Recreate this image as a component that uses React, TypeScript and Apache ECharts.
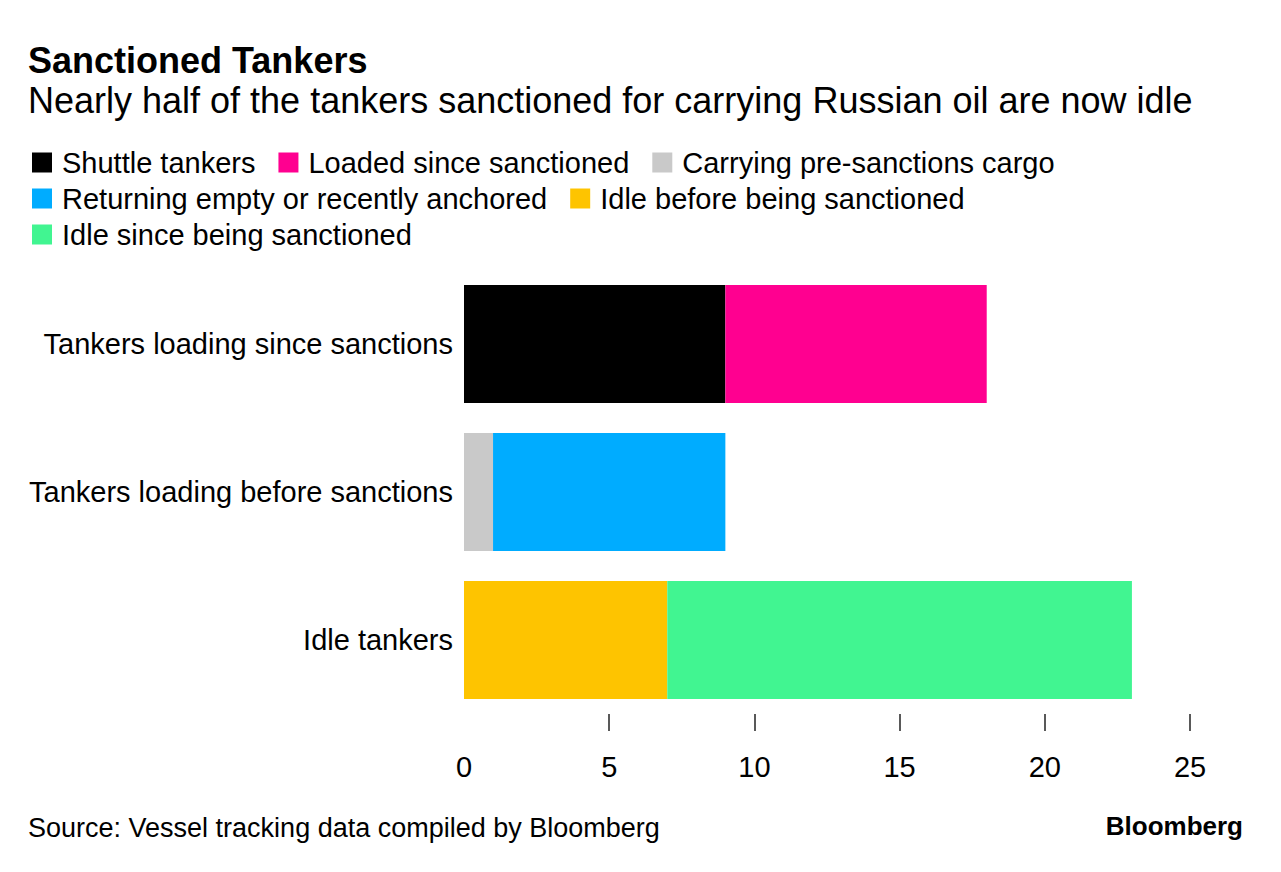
import React, { useEffect, useRef } from "react";
import * as echarts from "echarts";

const categories = [
  "Tankers loading since sanctions",
  "Tankers loading before sanctions",
  "Idle tankers",
];
const seriesNames = [
  "Shuttle tankers",
  "Loaded since sanctioned",
  "Carrying pre-sanctions cargo",
  "Returning empty or recently anchored",
  "Idle before being sanctioned",
  "Idle since being sanctioned",
];
const shuttleTankers = [9, null, null];
const loadedSinceSanctioned = [9, null, null];
const carryingPreSanctions = [null, 1, null];
const returningEmpty = [null, 8, null];
const idleBefore = [null, null, 7];
const idleSince = [null, null, 16];
const seriesValues = [
  shuttleTankers,
  loadedSinceSanctioned,
  carryingPreSanctions,
  returningEmpty,
  idleBefore,
  idleSince,
];
const seriesColors = ["#000000", "#ff0090", "#c9c9c9", "#00acff", "#fec400", "#41f591"];
const xTicks = [5, 10, 15, 20, 25];
const xLabels = [0, 5, 10, 15, 20, 25];
const legendRows = [
  [seriesNames[0], seriesNames[1], seriesNames[2]],
  [seriesNames[3], seriesNames[4]],
  [seriesNames[5]],
];

const FONT = "'Liberation Sans', Arial, sans-serif";

export default function App() {
  const ref = useRef<HTMLDivElement>(null);
  useEffect(() => {
    if (!ref.current) return;
    const chart = echarts.init(ref.current, undefined, { renderer: "svg" });
    const rowCenters = [162.5, 198.5, 234.5];
    chart.setOption({
      animation: false,
      backgroundColor: "#ffffff",
      textStyle: { fontFamily: FONT },
      legend: legendRows.map((row, i) => ({
        data: row,
        left: 32,
        top: rowCenters[i] - 16,
        padding: 0,
        orient: "horizontal",
        icon: "rect",
        itemWidth: 20,
        itemHeight: 20,
        itemGap: 23,
        selectedMode: false,
        textStyle: {
          fontFamily: FONT,
          fontSize: 29,
          color: "#000",
          lineHeight: 32,
          padding: [0, 0, 0, 5],
        },
      })),
      grid: {
        left: 464,
        right: 91,
        top: 270,
        bottom: 158,
        containLabel: false,
        outerBoundsMode: "none",
      },
      xAxis: {
        type: "value",
        min: 0,
        max: 25,
        interval: 5,
        splitLine: { show: false },
        axisLine: { show: false },
        axisTick: {
          show: true,
          length: 17,
          customValues: xTicks,
          lineStyle: { color: "#222", width: 1.5 },
        },
        axisLabel: {
          customValues: xLabels,
          margin: 38,
          fontSize: 29,
          color: "#000",
          fontFamily: FONT,
        },
      },
      yAxis: {
        type: "category",
        data: categories,
        inverse: true,
        axisLine: { show: false },
        axisTick: { show: false },
        axisLabel: { margin: 11, fontSize: 29, color: "#000", fontFamily: FONT },
      },
      series: seriesNames.map((name, i) => ({
        name,
        type: "bar",
        stack: "total",
        barWidth: 118,
        data: seriesValues[i],
        itemStyle: { color: seriesColors[i] },
        emphasis: { disabled: true },
      })),
      graphic: [
        {
          type: "text",
          left: 28,
          top: 42,
          style: {
            text: "Sanctioned Tankers",
            font: `bold 36px ${FONT}`,
            fill: "#000",
          },
        },
        {
          type: "text",
          left: 28,
          top: 82,
          style: {
            text: "Nearly half of the tankers sanctioned for carrying Russian oil are now idle",
            font: `36px ${FONT}`,
            fill: "#000",
          },
        },
        {
          type: "text",
          left: 28,
          top: 814,
          style: {
            text: "Source: Vessel tracking data compiled by Bloomberg",
            font: `27px ${FONT}`,
            fill: "#000",
          },
        },
        {
          type: "text",
          right: 38,
          top: 813,
          style: {
            text: "Bloomberg",
            font: `bold 26px ${FONT}`,
            fill: "#000",
          },
        },
      ],
    });
    return () => chart.dispose();
  }, []);
  return (
    <div
      ref={ref}
      style={{ position: "absolute", left: 0, top: 0, width: 1281, height: 872 }}
    />
  );
}
